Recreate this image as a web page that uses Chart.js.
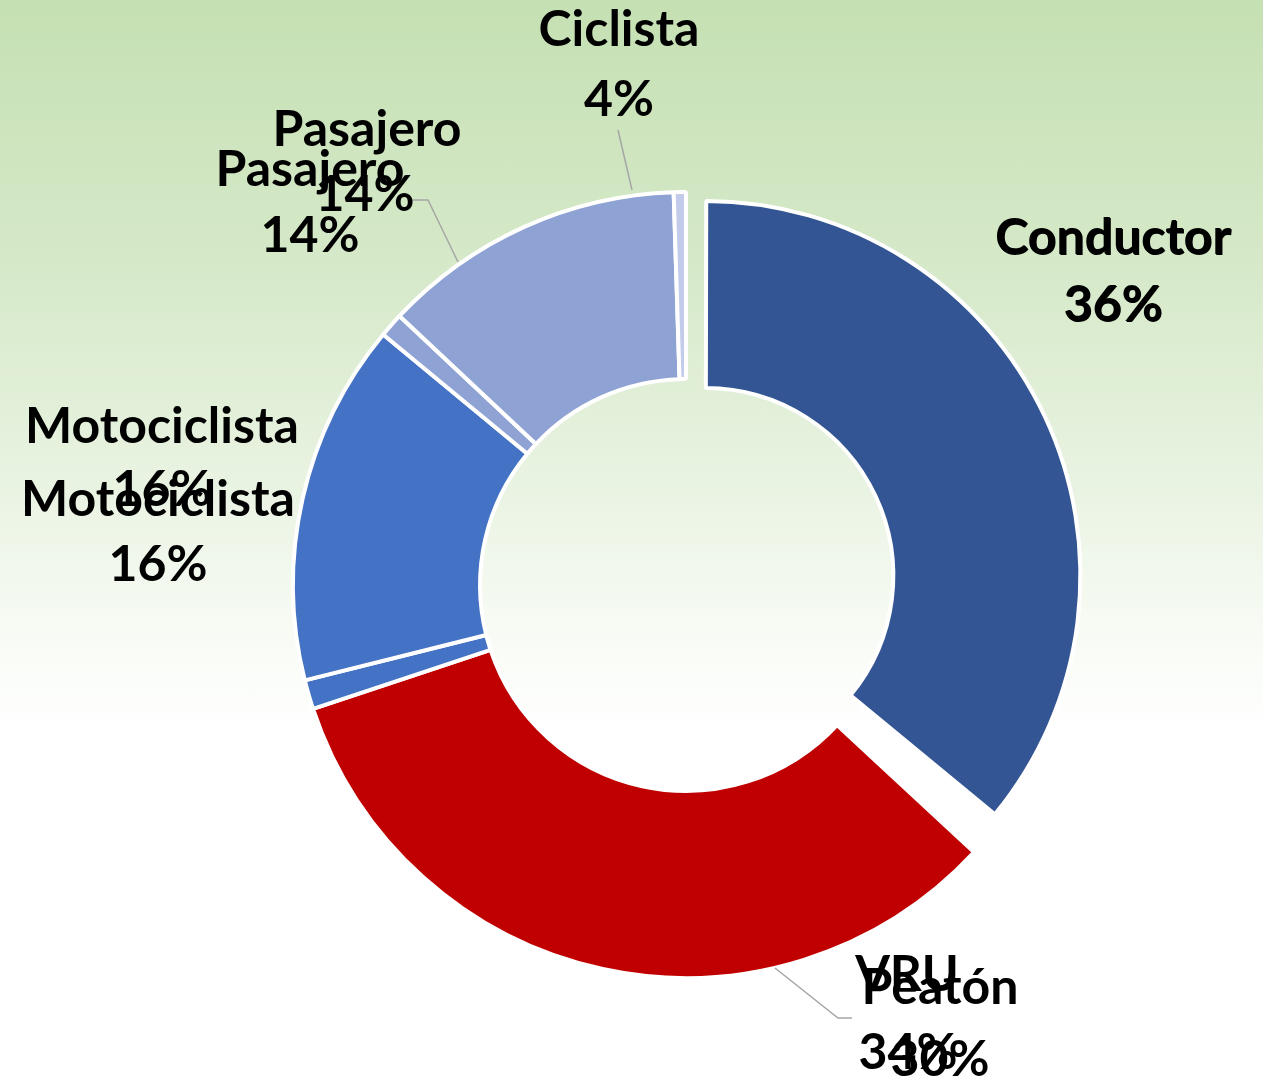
<!DOCTYPE html>
<html>
<head>
<meta charset="utf-8">
<script src="https://cdn.jsdelivr.net/npm/chart.js@4/dist/chart.umd.min.js"></script>
<style>
    html, body { margin: 0; padding: 0; }
    body {
        width: 1263px;
        height: 1079px;
        overflow: hidden;
        background: linear-gradient(to bottom, #c5e0b3 0%, #d6e9c9 25%, #e9f3e2 45%, #f7fbf4 58%, #ffffff 68%, #ffffff 100%);
    }
    #chart-wrap { position: relative; width: 1263px; height: 1079px; }
</style>
</head>
<body>
<div id="chart-wrap"><canvas id="victimChart" width="1263" height="1079"></canvas></div>
<script>
// visible ring slices, clockwise from 12 o'clock (two overlaid charts, so there are slivers)
const slices = ['Conductor', '', 'Peatón', 'Motociclista (b)', 'Motociclista', 'Pasajero (b)', 'Pasajero', 'Ciclista'];
const sliceValues = [36, 0.9, 33, 1.2, 14.9, 1, 12.5, 0.5];
const sliceColors = ['#335593', 'rgba(255,255,255,0)', '#c00000', '#4472c4', '#4472c4', '#8fa2d4', '#8fa2d4', '#c3cbea'];

// data labels of the two overlaid charts
const categoriesA = ['Conductor', 'Peatón', 'Motociclista', 'Pasajero'];
const percentA = [36, 34, 16, 14];
const categoriesB = ['Conductor', 'VRU', 'Motociclista', 'Pasajero', 'Ciclista'];
const percentB = [36, 30, 16, 14, 4];

// where each label sits (centre of name line, centre of percent line)
const labelPosA = [[1113, 238, 1113, 305], [940, 988, 908, 1053], [162, 427, 162, 490], [367, 130, 365, 195]];
const labelPosB = [[1114, 239, 1114, 306], [907, 975, 940, 1060], [158, 500, 158, 565], [310, 170, 310, 236], [619, 30, 619, 100]];

const leaderLines = [
    [[618, 130], [632, 190]],
    [[412, 200], [428, 200], [458, 262]],
    [[775, 968], [838, 1018], [852, 1018]]
];

const labelPlugin = {
    id: 'labels',
    afterDatasetUpdate(chart) {
        // exploded Conductor piece is drawn a bit smaller in the original
        const arc = chart.getDatasetMeta(0).data[0];
        arc.outerRadius -= 23;
        arc.innerRadius -= 23;
    },
    afterDraw(chart) {
        const ctx = chart.ctx;
        ctx.save();
        ctx.strokeStyle = '#a6a6a6';
        ctx.lineWidth = 1.5;
        leaderLines.forEach(pts => {
            ctx.beginPath();
            pts.forEach((p, i) => i ? ctx.lineTo(p[0], p[1]) : ctx.moveTo(p[0], p[1]));
            ctx.stroke();
        });

        ctx.fillStyle = '#000';
        ctx.textAlign = 'center';
        ctx.textBaseline = 'middle';
        ctx.font = 'bold 50px Lato';
        const put = (names, pcts, pos) => {
            names.forEach((n, i) => {
                const p = pos[i];
                ctx.fillText(n, p[0], p[1]);
                ctx.fillText(pcts[i] + '%', p[2], p[3]);
            });
        };
        put(categoriesA, percentA, labelPosA);
        put(categoriesB, percentB, labelPosB);
        ctx.restore();
    }
};

document.addEventListener('DOMContentLoaded', () => {
    const ctx = document.getElementById('victimChart');

    new Chart(ctx, {
        type: 'doughnut',
        data: {
            labels: slices,
            datasets: [{
                data: sliceValues,
                backgroundColor: sliceColors,
                borderColor: ['#ffffff', 'rgba(255,255,255,0)', '#ffffff', '#ffffff', '#ffffff', '#ffffff', '#ffffff', '#ffffff'],
                borderWidth: 4,
                offset: [86, 0, 0, 0, 0, 0, 0, 0]
            }]
        },
        options: {
            responsive: false,
            animation: false,
            radius: 393,
            cutout: '52.4%',
            layout: { padding: { left: 109, top: 91, right: 0, bottom: 0 } },
            plugins: {
                legend: { display: false },
                tooltip: { enabled: false }
            }
        },
        plugins: [labelPlugin]
    });
});
</script>
</body>
</html>
